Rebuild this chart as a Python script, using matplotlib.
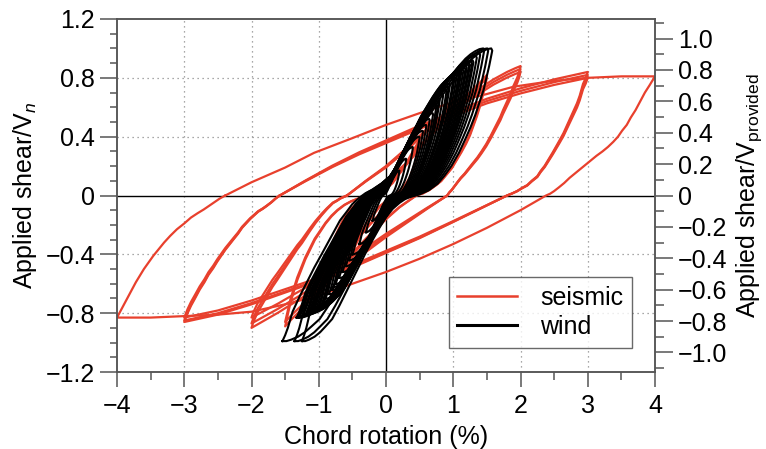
import numpy as np
import matplotlib
matplotlib.use("Agg")
import matplotlib.pyplot as plt
from matplotlib.ticker import MultipleLocator
from matplotlib.lines import Line2D

plt.rcParams['font.family'] = ['Liberation Sans', 'DejaVu Sans']
plt.rcParams['mathtext.fontset'] = 'custom'
plt.rcParams['mathtext.rm'] = 'Liberation Sans'
plt.rcParams['mathtext.it'] = 'Liberation Sans:italic'
plt.rcParams['font.size'] = 18

RED = '#e8402d'
GREY = '#555555'

# ---------------- seismic protocol: one representative cycle per amplitude ----------------
# each cycle: negative-side crossing -> +peak -> positive crossing -> -peak -> back
s4_rot = [-2.39, -2.0, -1.5, -1.07, -0.5, 0.0, 0.5, 0.9, 1.5, 1.9, 2.5, 3.0, 3.5, 4.0,
          3.92, 3.85, 3.78, 3.71, 3.64, 3.58, 3.51, 3.45, 3.38, 3.3, 3.22, 3.13, 3.05, 2.97, 2.89,
          2.81, 2.73, 2.65, 2.57, 2.5, 2.44, 2.38,
          2.0, 1.5, 1.0, 0.5, 0.0, -0.5, -1.0, -1.5, -2.0, -2.5, -3.0, -3.5, -4.0,
          -3.93, -3.86, -3.79, -3.72, -3.66, -3.6, -3.53, -3.46, -3.38, -3.3, -3.21, -3.11,
          -3.0, -2.9, -2.8, -2.71, -2.63, -2.55, -2.47, -2.39]
s4_shear = [0.0, 0.09, 0.19, 0.29, 0.39, 0.48, 0.56, 0.62, 0.69, 0.74, 0.78, 0.80, 0.81, 0.81,
            0.75, 0.70, 0.64, 0.58, 0.53, 0.48, 0.44, 0.40, 0.365, 0.33, 0.30, 0.27, 0.24, 0.21, 0.18,
            0.15, 0.12, 0.085, 0.055, 0.03, 0.012, 0.0,
            -0.10, -0.22, -0.33, -0.43, -0.52, -0.60, -0.68, -0.74, -0.79, -0.81, -0.82, -0.83, -0.83,
            -0.77, -0.71, -0.65, -0.59, -0.545, -0.50, -0.455, -0.41, -0.365, -0.32, -0.275, -0.23,
            -0.19, -0.15, -0.12, -0.095, -0.07, -0.045, -0.02, 0.0]
s4_pos_peaks = [0.81]
s4_neg_peaks = [-0.83]

s3_rot = [-1.58, -1.2, -0.8, -0.4, 0.0, 0.5, 1.0, 1.5, 2.0, 2.5, 2.8, 3.0,
          2.97, 2.93, 2.88, 2.84, 2.79, 2.74, 2.69, 2.64, 2.58, 2.53, 2.48, 2.42, 2.36, 2.3, 2.25,
          2.17, 2.1, 2.02, 1.95, 1.87, 1.8,
          1.4, 1.0, 0.5, 0.0, -0.5, -1.0, -1.5, -2.0, -2.5, -2.8, -3.0,
          -2.95, -2.9, -2.84, -2.77, -2.7, -2.64, -2.57, -2.51, -2.45, -2.39, -2.33, -2.27,
          -2.2, -2.14, -2.08, -2.02, -1.96, -1.9, -1.83, -1.77, -1.7, -1.64, -1.58]
s3_shear = [0.0, 0.10, 0.20, 0.29, 0.37, 0.47, 0.56, 0.65, 0.72, 0.78, 0.81, 0.83,
            0.79, 0.75, 0.67, 0.62, 0.57, 0.52, 0.47, 0.42, 0.37, 0.33, 0.29, 0.245, 0.20, 0.165, 0.13,
            0.10, 0.07, 0.05, 0.03, 0.013, 0.0,
            -0.09, -0.18, -0.29, -0.39, -0.49, -0.58, -0.66, -0.74, -0.81, -0.84, -0.86,
            -0.80, -0.75, -0.70, -0.64, -0.59, -0.54, -0.495, -0.45, -0.41, -0.37, -0.335, -0.30,
            -0.26, -0.22, -0.19, -0.16, -0.135, -0.11, -0.09, -0.07, -0.045, -0.02, 0.0]
s3_pos_peaks = [0.84, 0.82, 0.80]
s3_neg_peaks = [-0.86, -0.85, -0.83]

s2_rot = [-0.58, -0.3, 0.0, 0.3, 0.6, 1.0, 1.3, 1.6, 1.8, 1.92, 2.0,
          1.98, 1.95, 1.92, 1.89, 1.86, 1.82, 1.78, 1.74, 1.7, 1.65, 1.6, 1.55, 1.49, 1.42, 1.36,
          1.29, 1.23, 1.17, 1.11, 1.06, 1.02, 0.98, 0.94, 0.91,
          0.6, 0.3, 0.0, -0.4, -0.8, -1.2, -1.6, -1.8, -1.92, -2.0,
          -1.97, -1.94, -1.91, -1.87, -1.81, -1.75, -1.69, -1.62, -1.56, -1.5, -1.44, -1.38,
          -1.32, -1.25, -1.19, -1.13, -1.05, -0.96, -0.88, -0.79, -0.73, -0.68, -0.63, -0.58]
s2_shear = [0.0, 0.10, 0.20, 0.32, 0.45, 0.60, 0.70, 0.79, 0.84, 0.865, 0.88,
            0.84, 0.80, 0.77, 0.74, 0.70, 0.66, 0.62, 0.58, 0.535, 0.49, 0.445, 0.40, 0.35, 0.30, 0.26,
            0.22, 0.185, 0.15, 0.12, 0.09, 0.065, 0.04, 0.02, 0.0,
            -0.09, -0.18, -0.27, -0.40, -0.53, -0.65, -0.76, -0.81, -0.84, -0.86,
            -0.82, -0.79, -0.76, -0.73, -0.685, -0.64, -0.595, -0.55, -0.51, -0.47, -0.43, -0.39,
            -0.35, -0.31, -0.27, -0.23, -0.18, -0.13, -0.09, -0.05, -0.035, -0.02, -0.01, 0.0]
s2_pos_peaks = [0.88, 0.86, 0.84]
s2_neg_peaks = [-0.90, -0.87, -0.83]

s15_rot = [-0.3, 0.0, 0.3, 0.6, 0.9, 1.2, 1.4, 1.5,
           1.47, 1.43, 1.39, 1.35, 1.3, 1.25, 1.19, 1.12, 1.05, 0.98, 0.9, 0.82, 0.74, 0.65, 0.55, 0.45,
           0.2, 0.0, -0.3, -0.6, -0.9, -1.2, -1.4, -1.5,
           -1.46, -1.42, -1.37, -1.32, -1.26, -1.2, -1.13, -1.06, -0.98, -0.9, -0.81, -0.72, -0.62,
           -0.52, -0.41, -0.3]
s15_shear = [0.0, 0.10, 0.22, 0.38, 0.53, 0.68, 0.77, 0.82,
             0.75, 0.68, 0.61, 0.55, 0.485, 0.42, 0.36, 0.30, 0.245, 0.19, 0.145, 0.10, 0.07, 0.04,
             0.015, 0.0,
             -0.08, -0.16, -0.30, -0.45, -0.60, -0.74, -0.83, -0.88,
             -0.80, -0.72, -0.645, -0.57, -0.50, -0.43, -0.365, -0.30, -0.245, -0.19, -0.14, -0.10,
             -0.065, -0.04, -0.02, 0.0]
s15_pos_peaks = [0.82, 0.80]
s15_neg_peaks = [-0.89, -0.86]

s1_rot = [-0.2, 0.0, 0.2, 0.4, 0.6, 0.8, 1.0,
          0.97, 0.93, 0.88, 0.83, 0.78, 0.72, 0.65, 0.58, 0.5, 0.4, 0.3,
          0.1, -0.1, -0.3, -0.5, -0.75, -1.0,
          -0.97, -0.93, -0.88, -0.83, -0.78, -0.72, -0.65, -0.55, -0.45, -0.33, -0.2]
s1_shear = [0.0, 0.07, 0.16, 0.27, 0.39, 0.52, 0.66,
            0.58, 0.50, 0.43, 0.36, 0.29, 0.23, 0.17, 0.12, 0.075, 0.03, 0.0,
            -0.06, -0.13, -0.23, -0.34, -0.50, -0.68,
            -0.60, -0.52, -0.45, -0.38, -0.31, -0.25, -0.18, -0.11, -0.06, -0.02, 0.0]
s1_pos_peaks = [0.66, 0.64]
s1_neg_peaks = [-0.68, -0.66]

s05_rot = [-0.1, 0.1, 0.3, 0.5, 0.48, 0.45, 0.4, 0.35, 0.28, 0.2, 0.1,
           -0.1, -0.3, -0.5, -0.48, -0.45, -0.4, -0.35, -0.28, -0.2, -0.1]
s05_shear = [0.0, 0.09, 0.22, 0.38, 0.31, 0.25, 0.18, 0.12, 0.07, 0.03, 0.0,
             -0.08, -0.20, -0.38, -0.31, -0.25, -0.18, -0.12, -0.07, -0.03, 0.0]
s05_pos_peaks = [0.38, 0.36]
s05_neg_peaks = [-0.38, -0.36]

# ---------------- wind protocol: outer cycle and the peaks of every cycle ----------------
wind_rot = [-1.53, -1.49, -1.45, -1.38, -1.28, -1.18, -1.06, -0.94, -0.81, -0.68, -0.58, -0.5,
            -0.43, -0.38, -0.3, -0.2, -0.07, 0.06, 0.18, 0.31, 0.43, 0.55, 0.68, 0.8, 0.93,
            1.06, 1.16, 1.25, 1.33, 1.4, 1.47, 1.53,
            1.545, 1.53, 1.5, 1.46, 1.42, 1.36, 1.3, 1.23, 1.15, 1.06, 0.95, 0.85, 0.75, 0.62, 0.5,
            0.43, 0.36, 0.28, 0.2, 0.1, 0.01, -0.12, -0.24, -0.37, -0.49, -0.61, -0.73, -0.85,
            -0.98, -1.1, -1.2, -1.3, -1.4, -1.47, -1.53]
wind_shear = [-0.99, -0.95, -0.90, -0.79, -0.69, -0.60, -0.49, -0.39, -0.28, -0.17, -0.11, -0.06,
              -0.03, -0.01, 0.015, 0.04, 0.08, 0.13, 0.21, 0.31, 0.40, 0.49, 0.58, 0.67, 0.75,
              0.83, 0.885, 0.93, 0.96, 0.98, 0.995, 1.00,
              0.985, 0.95, 0.88, 0.80, 0.72, 0.635, 0.55, 0.465, 0.38, 0.29, 0.20, 0.135, 0.08, 0.035,
              0.01, 0.0, -0.01, -0.025, -0.05, -0.09, -0.14, -0.22, -0.30, -0.39, -0.48, -0.57,
              -0.66, -0.75, -0.84, -0.89, -0.93, -0.96, -0.98, -0.99, -0.99]
wind_pos_rot = [0.20, 0.30, 0.40, 0.50, 0.55, 0.60, 0.65, 0.70, 0.75, 0.78, 0.80, 0.85, 0.90,
                0.93, 0.95, 1.00, 1.02, 1.05, 1.08, 1.10, 1.12, 1.15, 1.18, 1.20, 1.23, 1.25,
                1.28, 1.30, 1.35, 1.40, 1.46, 1.52, 1.58]
wind_pos_shear = [0.17, 0.25, 0.33, 0.40, 0.44, 0.48, 0.52, 0.56, 0.62, 0.64, 0.66, 0.69, 0.72,
                  0.74, 0.76, 0.80, 0.81, 0.82, 0.83, 0.84, 0.85, 0.86, 0.87, 0.88, 0.89, 0.90,
                  0.91, 0.92, 0.95, 0.97, 1.00, 1.00, 1.00]
wind_neg_rot = [-0.20, -0.30, -0.40, -0.50, -0.55, -0.60, -0.65, -0.70, -0.75, -0.78, -0.80,
                -0.85, -0.90, -0.93, -0.96, -1.00, -1.02, -1.05, -1.08, -1.10, -1.12, -1.15,
                -1.18, -1.20, -1.23, -1.25, -1.28, -1.30, -1.30, -1.33, -1.25, -1.36, -1.54]
wind_neg_shear = [-0.17, -0.25, -0.33, -0.40, -0.44, -0.48, -0.52, -0.56, -0.60, -0.62, -0.64,
                  -0.67, -0.70, -0.72, -0.74, -0.76, -0.77, -0.78, -0.79, -0.79, -0.80, -0.80,
                  -0.81, -0.81, -0.81, -0.82, -0.82, -0.82, -0.83, -0.83, -0.99, -0.99, -0.99]

# axis ticks
x_ticks = [-4, -3, -2, -1, 0, 1, 2, 3, 4]
y_ticks = [-1.2, -0.8, -0.4, 0.0, 0.4, 0.8, 1.2]
y2_ticks = [-1.0, -0.8, -0.6, -0.4, -0.2, 0.0, 0.2, 0.4, 0.6, 0.8, 1.0]
VN_TO_VPROV = 0.9375


def num_label(v, digits=1):
    if abs(v) < 1e-9:
        return '0'
    return ('\u2212' if v < 0 else '') + f'{abs(v):.{digits}f}'


def seismic_cycles(rot, shear, pos_peaks, neg_peaks):
    rot = np.asarray(rot, float)
    shear = np.asarray(shear, float)
    pmax = shear.max()
    nmin = shear.min()
    for pp, nn in zip(pos_peaks, neg_peaks):
        s = np.where(shear >= 0, shear * pp / pmax, shear * nn / nmin)
        yield rot, s


def wind_cycles():
    rot = np.asarray(wind_rot, float)
    shear = np.asarray(wind_shear, float)
    rmax, rmin = rot.max(), rot.min()
    smax, smin = shear.max(), shear.min()
    for xp, yp, xn, yn in zip(wind_pos_rot, wind_pos_shear, wind_neg_rot, wind_neg_shear):
        pos = shear >= 0
        x = np.where(pos, rot * xp / rmax, rot * xn / rmin)
        y = np.where(pos, shear * yp / smax, shear * yn / smin)
        yield x, y


fig = plt.figure(figsize=(7.66, 4.49), dpi=100)
ax = fig.add_axes([117 / 766, 1 - 372 / 449, 538 / 766, 353 / 449])

ax.set_xlim(-4, 4)
ax.set_ylim(-1.2, 1.2)

for xv in x_ticks[1:-1]:
    if xv != 0:
        ax.axvline(xv, color='#8c8c8c', lw=0.9, ls=(0, (1, 3)), zorder=0.5)
for yv in y_ticks[1:-1]:
    if yv != 0:
        ax.axhline(yv, color='#8c8c8c', lw=0.9, ls=(0, (1, 3)), zorder=0.5)
ax.axhline(0, color='black', lw=1.0, zorder=1)
ax.axvline(0, color='black', lw=1.0, zorder=1)

groups = [
    (s05_rot, s05_shear, s05_pos_peaks, s05_neg_peaks),
    (s1_rot, s1_shear, s1_pos_peaks, s1_neg_peaks),
    (s15_rot, s15_shear, s15_pos_peaks, s15_neg_peaks),
    (s2_rot, s2_shear, s2_pos_peaks, s2_neg_peaks),
    (s3_rot, s3_shear, s3_pos_peaks, s3_neg_peaks),
    (s4_rot, s4_shear, s4_pos_peaks, s4_neg_peaks),
]
for g in groups:
    for x, y in seismic_cycles(*g):
        ax.plot(x, y, color=RED, lw=1.6, zorder=2, solid_joinstyle='round')

for x, y in wind_cycles():
    ax.plot(x, y, color='black', lw=1.5, zorder=3, solid_joinstyle='round')

# ticks and labels
ax.set_xticks(x_ticks)
ax.xaxis.set_minor_locator(MultipleLocator(0.5))
ax.set_xticklabels([num_label(v, 0) for v in x_ticks])
ax.set_yticks(y_ticks)
ax.yaxis.set_minor_locator(MultipleLocator(0.1))
ax.set_yticklabels([num_label(v) for v in y_ticks])

ax.tick_params(axis='both', which='both', direction='out', color=GREY, width=1.1, top=False, right=False)
ax.tick_params(axis='y', which='major', length=12.2, pad=3.5)
ax.tick_params(axis='y', which='minor', length=5.2)
ax.tick_params(axis='x', which='major', length=11, pad=5)
ax.tick_params(axis='x', which='minor', length=5.5)
for sp in ax.spines.values():
    sp.set_color(GREY)
    sp.set_linewidth(1.1)

ax2 = ax.twinx()
ax2.set_ylim(-1.2 * VN_TO_VPROV, 1.2 * VN_TO_VPROV)
ax2.set_yticks(y2_ticks)
ax2.yaxis.set_minor_locator(MultipleLocator(0.1))
ax2.set_yticklabels([num_label(v) for v in y2_ticks])
ax2.tick_params(axis='y', which='major', direction='out', length=13, width=1.1, color=GREY, pad=3.5)
ax2.tick_params(axis='y', which='minor', direction='out', length=6.5, width=1.1, color=GREY)
for sp in ax2.spines.values():
    sp.set_color(GREY)
    sp.set_linewidth(1.1)

ax.set_xlabel('Chord rotation (%)', labelpad=5)
ax.set_ylabel('Applied shear/V$_{\\mathit{n}}$', labelpad=5)
ax2.set_ylabel('Applied shear/V$_{\\mathrm{provided}}$', labelpad=5)

handles = [Line2D([], [], color=RED, lw=1.8), Line2D([], [], color='black', lw=2.2)]
leg = ax.legend(handles, ['seismic', 'wind'], loc='lower right', bbox_to_anchor=(0.957, 0.068),
                borderaxespad=0, frameon=True, fancybox=False, handlelength=2.4,
                handletextpad=0.9, borderpad=0.35, labelspacing=0.2)
leg.get_frame().set_edgecolor('#444444')
leg.get_frame().set_linewidth(1.0)
leg.set_zorder(5)

fig.savefig('out.png', dpi=100)
